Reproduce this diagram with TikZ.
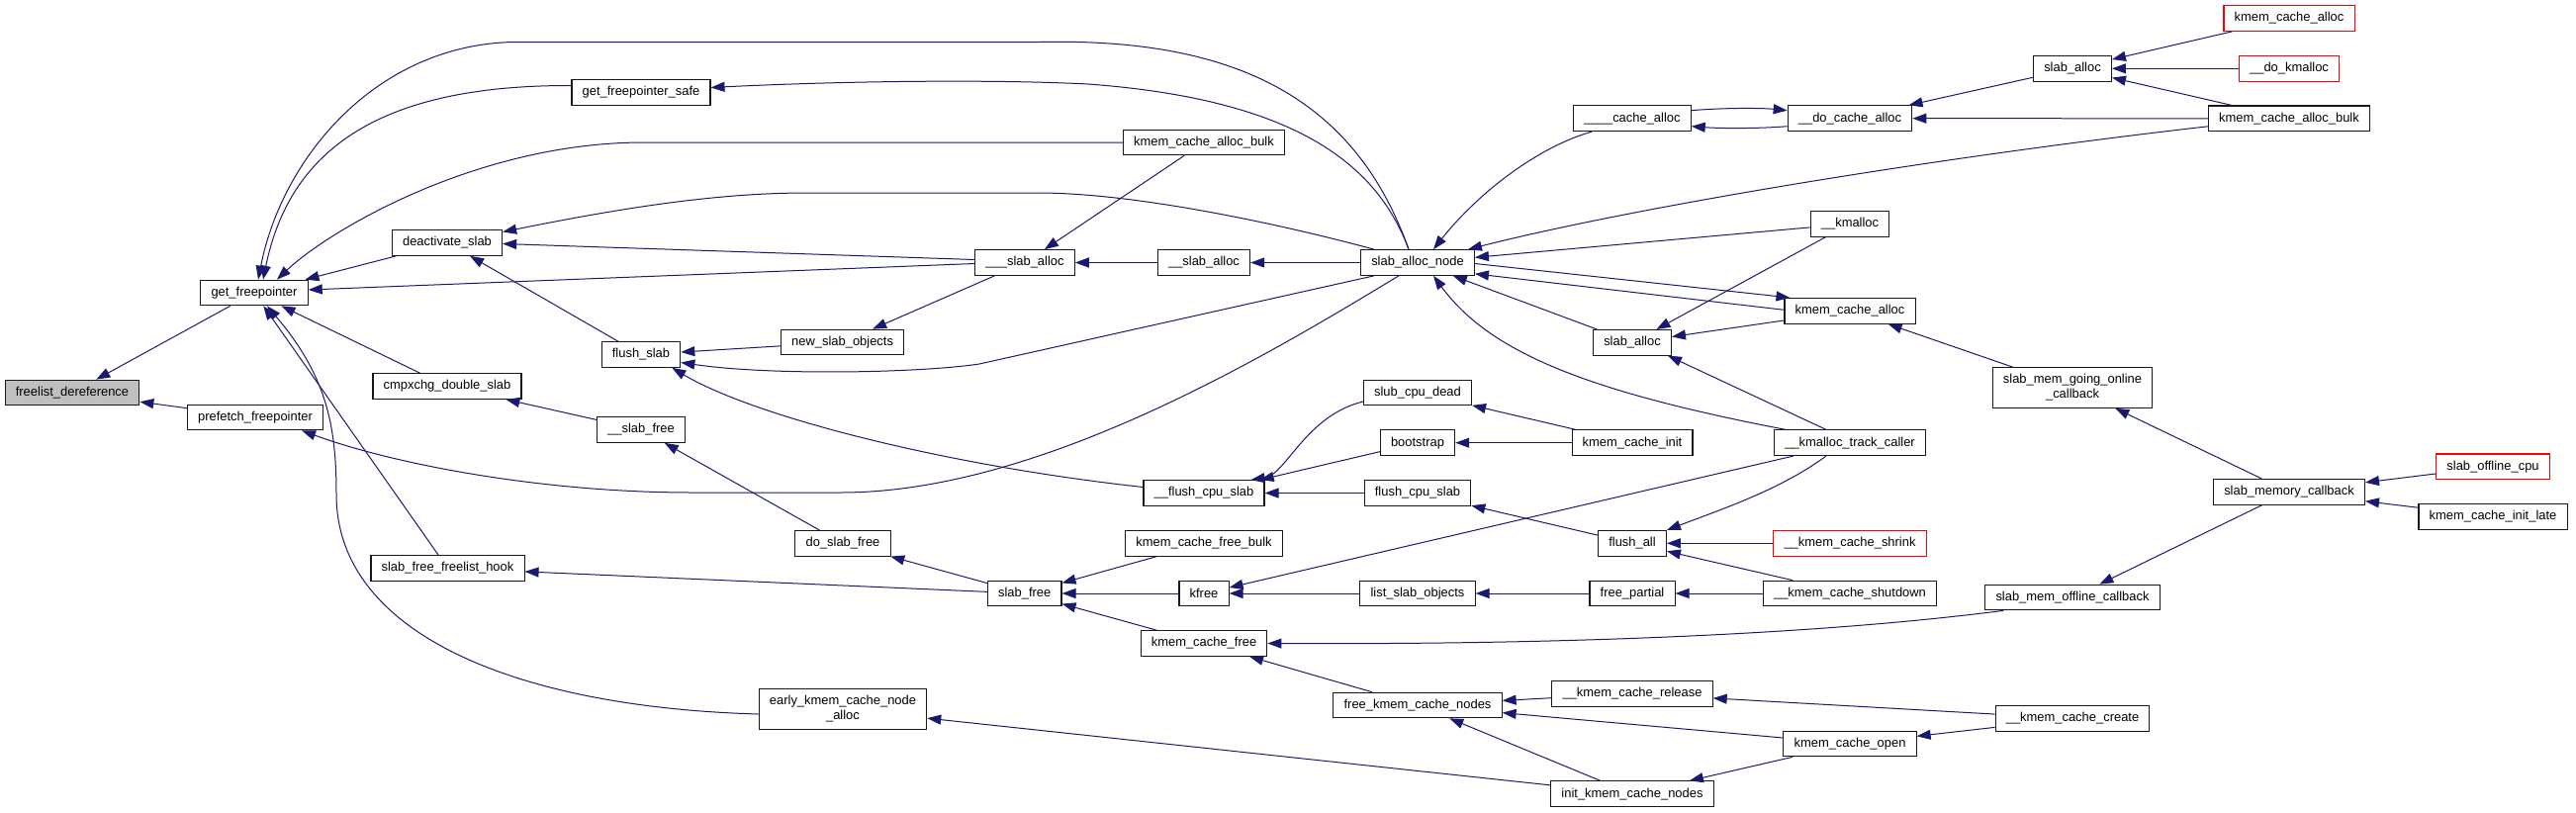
\documentclass[tikz,border=0pt]{standalone}
\usepackage{fontspec}
\setmainfont{Liberation Sans}
\usepackage{tikz}
\usetikzlibrary{arrows.meta, calc}
\usepackage{xcolor}
\definecolor{edgeblue}{HTML}{191970}
\definecolor{rootgray}{HTML}{BFBFBF}
\definecolor{cutred}{HTML}{FF0000}

\tikzset{
  fn/.style={draw=black!90, line width=0.8pt, fill=white, rectangle,
    inner xsep=8pt, inner ysep=2pt, minimum height=19.2pt,
    font=\fontsize{9.7}{11.3}\selectfont},
  root/.style={fn, fill=rootgray},
  cut/.style={fn, draw=cutred},
  two/.style={fn, align=center, minimum height=30.4pt},
  call/.style={draw=edgeblue, line width=0.75pt, {Triangle[length=10.5pt, width=7.5pt]}-}
}

\begin{document}
\begin{tikzpicture}[x=0.75pt, y=-0.75pt]
    \useasboundingbox (0,0) rectangle (2604,821);
    \node[root] (deref) at (73,397) {freelist\_dereference};
    \node[fn] (getfp) at (257,296) {get\_freepointer};
    \node[fn] (prefetch) at (258,422) {prefetch\_freepointer};
    \node[fn] (deact) at (452,245.5) {deactivate\_slab};
    \node[fn] (cmpx) at (452,390.5) {cmpxchg\_double\_slab};
    \node[fn] (hook) at (452.5,574.5) {slab\_free\_freelist\_hook};
    \node[fn] (fpsafe) at (648,93.5) {get\_freepointer\_safe};
    \node[fn] (flushslab) at (648,358.5) {flush\_slab};
    \node[fn] (slabfreeB) at (648,434.5) {\_\_slab\_free};
    \node[fn] (newobj) at (851.6,346) {new\_slab\_objects};
    \node[fn] (doslabfree) at (852,549.3) {do\_slab\_free};
    \node[two] (earlyalloc) at (852,717) {early\_kmem\_cache\_node\\\_alloc};
    \node[fn] (allocC) at (1036,265.5) {\_\_\_slab\_alloc};
    \node[fn] (slabfree) at (1035.7,600) {slab\_free};
    \node[fn] (bulkA) at (1217,144) {kmem\_cache\_alloc\_bulk};
    \node[fn] (allocB) at (1217,265.5) {\_\_slab\_alloc};
    \node[fn] (flushcpuB) at (1217,498.5) {\_\_flush\_cpu\_slab};
    \node[fn] (freebulk) at (1217,549.3) {kmem\_cache\_free\_bulk};
    \node[fn] (kfree) at (1217,600) {kfree};
    \node[fn] (cachefree) at (1217,650.5) {kmem\_cache\_free};
    \node[fn] (allocnode) at (1433,265.5) {slab\_alloc\_node};
    \node[fn] (cpudead) at (1433,397) {slub\_cpu\_dead};
    \node[fn] (bootstrap) at (1433,447.7) {bootstrap};
    \node[fn] (flushcpu) at (1433,498.5) {flush\_cpu\_slab};
    \node[fn] (listobj) at (1433,600) {list\_slab\_objects};
    \node[fn] (freenodes) at (1433,713) {free\_kmem\_cache\_nodes};
    \node[fn] (cacheD) at (1650,119.7) {\_\_\_\_cache\_alloc};
    \node[fn] (slaballocB) at (1650,346.3) {slab\_alloc};
    \node[fn] (cacheinit) at (1650,447.7) {kmem\_cache\_init};
    \node[fn] (flushall) at (1650,549.3) {flush\_all};
    \node[fn] (freepartial) at (1650,600) {free\_partial};
    \node[fn] (release) at (1650,701.3) {\_\_kmem\_cache\_release};
    \node[fn] (initnodes) at (1650,802.7) {init\_kmem\_cache\_nodes};
    \node[fn] (docache) at (1870,119.7) {\_\_do\_cache\_alloc};
    \node[fn] (kmalloc) at (1870,226.3) {\_\_kmalloc};
    \node[fn] (cachealloc) at (1870,314.3) {kmem\_cache\_alloc};
    \node[fn] (trackcaller) at (1870,447.7) {\_\_kmalloc\_track\_caller};
    \node[cut] (shrink) at (1870,549.3) {\_\_kmem\_cache\_shrink};
    \node[fn] (shutdown) at (1870,600) {\_\_kmem\_cache\_shutdown};
    \node[fn] (cacheopen) at (1870,752) {kmem\_cache\_open};
    \node[fn] (slaballocA) at (2095,69.3) {slab\_alloc};
    \node[two] (online) at (2095,392) {slab\_mem\_going\_online\\\_callback};
    \node[fn] (offline) at (2095,604) {slab\_mem\_offline\_callback};
    \node[fn] (create) at (2095,726.5) {\_\_kmem\_cache\_create};
    \node[cut] (cacheallocR) at (2314,18.5) {kmem\_cache\_alloc};
    \node[cut] (dokmalloc) at (2314,69.3) {\_\_do\_kmalloc};
    \node[fn] (bulkB) at (2314,119.8) {kmem\_cache\_alloc\_bulk};
    \node[fn] (memcb) at (2314,497.3) {slab\_memory\_callback};
    \node[cut] (offcpu) at (2520,471.8) {slab\_offline\_cpu};
    \node[fn] (initlate) at (2520,522.5) {kmem\_cache\_init\_late};

    \draw[call] (deref) -- (getfp);
    \draw[call] (deref) -- (prefetch);
    \draw[call] ($(getfp.north)+(9,0)$) .. controls (295,140) and (400,86) .. ($(fpsafe.west)+(0,-7)$);
    \draw[call] ($(getfp.north)+(4,0)$) .. controls (285,160) and (380,45) .. (520,42.5) -- (1050,42.5)
      .. controls (1250,38) and (1370,100) .. ($(allocnode.north)+(-9,0)$);
    \draw[call] ($(getfp.north)+(23,0)$) .. controls (330,235) and (480,144) .. (651,144) -- (bulkA.west);
    \draw[call] (getfp) -- (deact);
    \draw[call] ($(getfp.east)+(0,-3)$) -- ($(allocC.west)+(0,1)$);
    \draw[call] (getfp) -- (cmpx);
    \draw[call] (getfp) -- (hook);
    \draw[call] ($(getfp.south)+(13,0)$) .. controls (330,380) and (340,430) .. (340,500)
      .. controls (340,640) and (520,715) .. ($(earlyalloc.west)+(0,5)$);
    \draw[call] ($(fpsafe.east)+(0,-5)$) .. controls (850,82) and (1000,80) .. (1100,85)
      .. controls (1300,100) and (1390,160) .. ($(allocnode.north)+(-9,0)$);
    \draw[call] ($(deact.east)+(0,-11)$) .. controls (620,212) and (720,195) .. (816,195) -- (1049,195)
      .. controls (1150,195) and (1300,228) .. ($(allocnode.north west)+(14,0)$);
    \draw[call] ($(deact.east)+(0,1)$) -- ($(allocC.west)+(0,-3)$);
    \draw[call] (deact) -- (flushslab);
    \draw[call] (flushslab) -- (newobj);
    \draw[call] ($(flushslab.east)+(0,8)$) .. controls (780,380) and (930,377) .. (990,368)
      -- ($(allocnode.south west)+(14,0)$);
    \draw[call] ($(flushslab.south east)+(-9,0)$) .. controls (760,420) and (950,470) .. ($(flushcpuB.west)+(0,-6)$);
    \draw[call] (allocC) -- (bulkA);
    \draw[call] (allocC) -- (allocB);
    \draw[call] (newobj) -- (allocC);
    \draw[call] (allocB) -- (allocnode);
    \draw[call] (cmpx) -- (slabfreeB);
    \draw[call] (slabfreeB) -- (doslabfree);
    \draw[call] ($(prefetch.south east)+(-22,0)$) .. controls (400,470) and (550,498) .. (700,498) -- (850,498)
      .. controls (1050,498) and (1280,360) .. ($(allocnode.south)+(-19,0)$);
    \draw[call] (hook) -- (slabfree);
    \draw[call] (doslabfree) -- (slabfree);
    \draw[call] (slabfree) -- (freebulk);
    \draw[call] (slabfree) -- (kfree);
    \draw[call] (slabfree) -- (cachefree);
    \draw[call] ($(flushcpuB.north east)+(-14,0)$) .. controls (1300,480) and (1320,420) .. ($(cpudead.west)+(0,9)$);
    \draw[call] (flushcpuB) -- (bootstrap);
    \draw[call] (flushcpuB) -- (flushcpu);
    \draw[call] (cpudead) -- (cacheinit);
    \draw[call] (bootstrap) -- (cacheinit);
    \draw[call] (kfree) -- (trackcaller);
    \draw[call] (kfree) -- (listobj);
    \draw[call] (cachefree.east) .. controls (1600,652) and (1850,640) .. ($(offline.south west)+(19,0)$);
    \draw[call] (cachefree) -- (freenodes);
    \draw[call] (earlyalloc) -- (initnodes);
    \draw[call] ($(allocnode.north)+(16,0)$) .. controls (1490,200) and (1550,150) .. ($(cacheD.south west)+(19,0)$);
    \draw[call] ($(allocnode.north east)+(-7,0)$) .. controls (1650,210) and (1950,160) .. ($(bulkB.west)+(0,8)$);
    \draw[call] (allocnode) -- (kmalloc);
    \draw[call] ($(cachealloc.north west)+(6,0)$) -- ($(allocnode.east)+(0,1)$);
    \draw[call] ($(allocnode.south east)+(0,-2)$) -- ($(cachealloc.west)+(0,-1)$);
    \draw[call] (allocnode) -- (slaballocB);
    \draw[call] ($(allocnode.south)+(16,0)$) .. controls (1505,355) and (1600,395) .. ($(trackcaller.north west)+(12,0)$);
    \draw[call] ($(docache.west)+(0,-8)$) .. controls (1780,109) and (1740,109) .. ($(cacheD.east)+(0,-8)$);
    \draw[call] ($(cacheD.east)+(0,8)$) .. controls (1740,130) and (1780,130) .. ($(docache.west)+(0,8)$);
    \draw[call] (docache) -- (slaballocA);
    \draw[call] (docache) -- (bulkB);
    \draw[call] (slaballocA) -- (cacheallocR);
    \draw[call] (slaballocA) -- (dokmalloc);
    \draw[call] (slaballocA) -- (bulkB);
    \draw[call] (slaballocB) -- (kmalloc);
    \draw[call] (slaballocB) -- (cachealloc);
    \draw[call] ($(slaballocB.south east)+(-4,0)$) -- ($(trackcaller.north)+(-24,0)$);
    \draw[call] (cachealloc) -- (online);
    \draw[call] (online) -- (memcb);
    \draw[call] (offline) -- (memcb);
    \draw[call] (memcb) -- (offcpu);
    \draw[call] (memcb) -- (initlate);
    \draw[call] (flushcpu) -- (flushall);
    \draw[call] (flushall.north east) .. controls (1740,515) and (1800,495) .. ($(trackcaller.south)+(-24,0)$);
    \draw[call] (flushall) -- (shrink);
    \draw[call] (flushall) -- (shutdown);
    \draw[call] (listobj) -- (freepartial);
    \draw[call] (freepartial) -- (shutdown);
    \draw[call] (freenodes) -- (release);
    \draw[call] (freenodes) -- (cacheopen);
    \draw[call] (freenodes) -- (initnodes);
    \draw[call] (initnodes) -- (cacheopen);
    \draw[call] (release) -- (create);
    \draw[call] (cacheopen) -- (create);
\end{tikzpicture}
\end{document}
